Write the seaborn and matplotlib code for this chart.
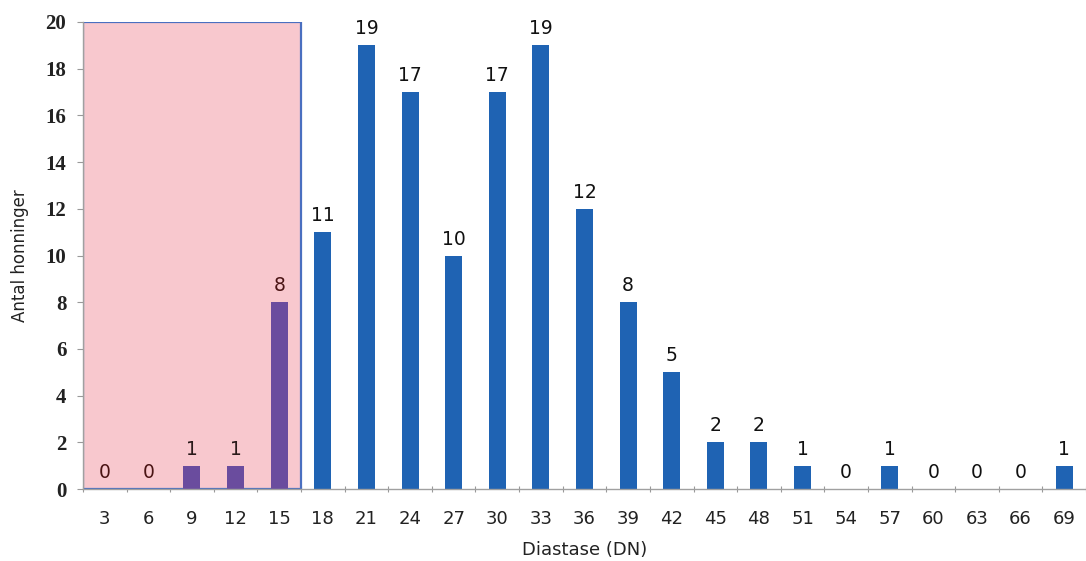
import matplotlib
matplotlib.use("Agg")
import matplotlib.pyplot as plt
from matplotlib.patches import Rectangle
import seaborn as sns
import pandas as pd

# Diastase activity classes (DN) and number of honeys in each
diastase = ["3", "6", "9", "12", "15", "18", "21", "24", "27", "30", "33", "36",
            "39", "42", "45", "48", "51", "54", "57", "60", "63", "66", "69"]
counts = [0, 0, 1, 1, 8, 11, 19, 17, 10, 17, 19, 12, 8, 5, 2, 2, 1, 0, 1, 0, 0, 0, 1]
low_classes = ["3", "6", "9", "12", "15"]  # below the accepted limit

blue = "#1F63B3"
purple = "#6A4C9E"
pink = "#F8C8CE"
frame = "#4A6FC0"

sns.set_theme(style="white")
plt.rcParams["font.family"] = ["DejaVu Sans"]

df = pd.DataFrame({"Diastase": diastase, "Antal": counts})
palette = {d: (purple if d in low_classes else blue) for d in diastase}

fig = plt.figure(figsize=(10.86, 5.61), dpi=100)
ax = fig.add_axes([0.0764, 0.128, 0.9236, 0.833])

sns.barplot(data=df, x="Diastase", y="Antal", hue="Diastase", palette=palette,
            legend=False, width=0.39, saturation=1, linewidth=0, ax=ax, zorder=3)

# shaded region marking the low classes
ax.add_patch(Rectangle((-0.5, 0), len(low_classes), 20, facecolor=pink,
                       edgecolor=frame, linewidth=1.6, zorder=1))

for i, (d, v) in enumerate(zip(diastase, counts)):
    col = "#4A1414" if d in low_classes else "#111111"
    if d in ("9", "12"):
        col = "#2A1A1A"
    ax.text(i, v + 0.3, str(v), ha="center", va="bottom", fontsize=13.5,
            color=col, zorder=4)

ax.set_xlim(-0.5, len(diastase) - 0.5)
ax.set_ylim(0, 20)
ax.set_yticks(range(0, 21, 2))
ax.set_yticklabels([str(t) for t in range(0, 21, 2)], family="Liberation Serif",
                   fontsize=15, fontweight="bold", color="#222222")
ax.tick_params(axis="y", length=4, width=0.8, color="#999999", pad=8, left=True)

# x ticks sit on the class boundaries, labels centred under the bars
ax.set_xticks([i for i in range(len(diastase))])
ax.set_xticklabels(diastase, fontsize=13, color="#222222")
ax.set_xticks([i - 0.5 for i in range(len(diastase) + 1)], minor=True)
ax.tick_params(axis="x", which="major", length=0, pad=15)
ax.tick_params(axis="x", which="minor", length=5, width=0.8, color="#999999",
               bottom=True, direction="inout")

ax.set_xlabel("Diastase (DN)", fontsize=13, labelpad=9, color="#222222")
ax.set_ylabel("Antal honninger", fontsize=12, labelpad=12, color="#222222")

for s in ("top", "right"):
    ax.spines[s].set_visible(False)
for s in ("left", "bottom"):
    ax.spines[s].set_color("#A0A0A0")
    ax.spines[s].set_linewidth(1.0)
ax.spines["bottom"].set_zorder(5)

fig.savefig("out.png", dpi=100)
